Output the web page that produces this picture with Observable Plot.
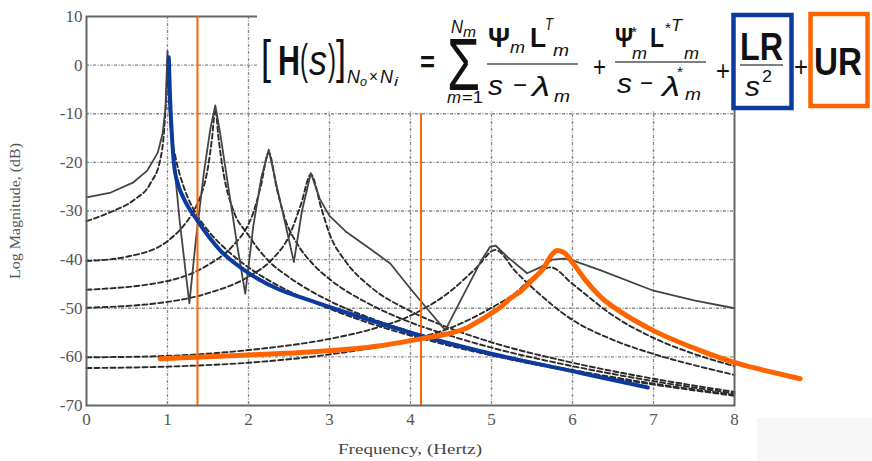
<!DOCTYPE html>
<html><head><meta charset="utf-8">
<script src="https://cdn.jsdelivr.net/npm/d3@7"></script>
<script src="https://cdn.jsdelivr.net/npm/@observablehq/plot@0.6"></script>
<style>html,body{margin:0;padding:0;background:#fff;} #chart svg{display:block}</style>
</head><body><div id="chart"></div>
<script>
// ---- data ----
const freqTicks = [0, 1, 2, 3, 4, 5, 6, 7, 8];
const magTicks = [10, 0, -10, -20, -30, -40, -50, -60, -70];
const bandEdges = [{f: 1.37, top: 10}, {f: 4.13, top: -10}];

const totalFRF = [[0,-27.2],[0.3,-26.2],[0.58,-24.1],[0.75,-21.7],[0.88,-18],[0.94,-14],[0.975,-9],[1.0,3],[1.03,-9],[1.08,-20],[1.15,-32],[1.22,-42],[1.27,-49],[1.35,-36],[1.45,-22],[1.53,-13],[1.59,-8.3],[1.65,-14],[1.75,-25],[1.86,-37],[1.96,-47],[2.06,-33],[2.16,-23],[2.25,-17.4],[2.35,-25],[2.46,-33],[2.56,-40.5],[2.66,-30],[2.77,-22.2],[2.88,-27.5],[3.0,-31],[3.2,-34.2],[3.47,-37.4],[3.75,-40.8],[4.0,-46],[4.2,-50],[4.43,-54.5],[4.6,-49],[4.86,-40.6],[4.98,-37.4],[5.05,-37.1],[5.2,-39.5],[5.44,-42.8],[5.6,-41.6],[5.75,-40],[5.9,-39.8],[6.01,-40.2],[6.35,-42.2],[7.0,-46.4],[7.5,-48.4],[8.0,-50]];

const mode1 = [[0,-32.1],[0.3,-30.2],[0.58,-27.8],[0.79,-24.3],[0.91,-19.5],[0.96,-13],[0.99,-4],[1.0,1],[1.01,-4],[1.04,-13],[1.1,-19],[1.2,-25],[1.37,-31],[1.5,-34],[1.75,-38.3],[2.0,-41.6],[2.5,-46.5],[3.0,-50.1],[3.5,-53.1],[4.0,-55.6],[5.0,-59.7],[6.0,-63],[7.0,-65.7],[8.0,-68]];
const mode2 = [[0,-40.3],[0.5,-39.4],[1.0,-36.2],[1.2,-33],[1.3,-30.7],[1.4,-27.3],[1.45,-24.8],[1.5,-21],[1.55,-15],[1.59,-9],[1.63,-15],[1.7,-23],[1.8,-29.3],[2.0,-35],[2.25,-40.3],[2.5,-43.6],[3.0,-48.5],[3.5,-52],[4.0,-54.8],[4.5,-57.2],[5.0,-59.3],[6.0,-62.7],[7.0,-65.5],[8.0,-67.8]];
const mode3 = [[0,-46.2],[1.0,-44.4],[1.5,-41.1],[1.8,-37.3],[2.0,-32.7],[2.05,-30.8],[2.15,-25],[2.25,-18],[2.35,-25.4],[2.45,-31.6],[2.6,-36.7],[2.8,-41],[3.0,-44],[3.5,-49.2],[4.0,-52.9],[4.5,-55.7],[5.0,-58.1],[6.0,-61.9],[7.0,-65],[8.0,-67.5]];
const mode4 = [[0,-49.9],[1.0,-48.7],[1.5,-46.9],[2.0,-43.5],[2.3,-39.8],[2.5,-35.2],[2.65,-28.5],[2.77,-22.5],[2.9,-29.5],[3.0,-34.7],[3.2,-40.4],[3.5,-45.5],[4.0,-50.6],[4.5,-54.2],[5.0,-57],[6.0,-61.2],[7.0,-64.5],[8.0,-67.2]];
const mode5 = [[0,-60.1],[1.0,-59.8],[2.0,-58.6],[3.0,-56.3],[3.5,-54.4],[4.0,-51.5],[4.5,-46.4],[4.8,-41.9],[5.05,-38],[5.3,-42.5],[5.5,-45.7],[6.0,-52.4],[6.5,-56.5],[7.0,-59.4],[7.5,-61.7],[8.0,-63.7]];
const mode6 = [[0,-62.3],[1.0,-62],[2.0,-61.2],[3.0,-59.5],[4.0,-56.5],[4.5,-54],[5.0,-49.9],[5.3,-46.8],[5.5,-43.8],[5.73,-41.6],[6.0,-45],[6.5,-51.5],[7.0,-56.1],[7.5,-59.4],[8.0,-61.9]];

const lowerResidual = [[1.016,1.6],[1.03,-6],[1.04,-10],[1.06,-16],[1.08,-20.3],[1.13,-24.5],[1.2,-27.4],[1.37,-32],[1.65,-38.1],[1.9,-41.6],[2.4,-46.3],[2.64,-47.7],[3.38,-51.8],[4.12,-55.6],[5.01,-59.4],[6.1,-63.3],[6.93,-66.3]];
const upperResidual = [[0.91,-60.4],[2.0,-59.6],[2.64,-59.1],[3.63,-57.7],[4.12,-56.3],[4.45,-55.3],[4.7,-54],[4.86,-52.5],[5.0,-51],[5.11,-49.8],[5.23,-48],[5.36,-46.5],[5.52,-43.9],[5.65,-41.6],[5.73,-39.3],[5.81,-38.1],[5.9,-38.6],[6.01,-40.8],[6.15,-44],[6.35,-47.7],[6.6,-50.8],[7.0,-54.6],[7.58,-58.7],[8.05,-61.4],[8.5,-63.3],[8.81,-64.5]];

const modes = [mode1, mode2, mode3, mode4, mode5, mode6];

// ---- styles ----
const BLUE = "#0c3a9e", ORANGE = "#ff6400";
const SERIF = "'Liberation Serif', 'DejaVu Serif', serif";
const gridStyle = {stroke: "#888", strokeWidth: 1.3, strokeDasharray: "3,1.5,1,1.5"};
const dashStyle = {stroke: "#2a2a2a", strokeWidth: 1.9, strokeDasharray: "5,3", curve: "monotone-x"};
const tickText = {fontFamily: SERIF, fontSize: 17, fill: "#555", className: "tick-lbl"};

const chart = Plot.plot({
  width: 872, height: 461,
  marginLeft: 86, marginRight: 138, marginTop: 16, marginBottom: 56,
  x: {domain: [0, 8], axis: null},
  y: {domain: [-70, 10], axis: null},
  style: {background: "white", overflow: "visible"},
  marks: [
    Plot.ruleX(freqTicks.slice(1, -1), gridStyle),
    Plot.ruleY(magTicks.slice(1, -1), gridStyle),
    ...modes.map(m => Plot.line(m, dashStyle)),
    Plot.line(totalFRF, {stroke: "#444", strokeWidth: 1.8}),
    Plot.frame({stroke: "#666", strokeWidth: 2}),
    Plot.text(freqTicks, {x: d => d, y: -70, text: d => String(d), dy: 14, textAnchor: "middle", ...tickText}),
    Plot.text(magTicks, {x: 0, y: d => d, text: d => String(d), dx: -4, textAnchor: "end", ...tickText}),
    Plot.ruleX(bandEdges, {x: "f", y1: "top", y2: -70, stroke: ORANGE, strokeWidth: 2}),
    Plot.line(lowerResidual, {stroke: BLUE, strokeWidth: 4, curve: "monotone-x"}),
    Plot.line(upperResidual, {stroke: ORANGE, strokeWidth: 5, curve: "monotone-x", strokeLinejoin: "round"})
  ]
});
document.getElementById("chart").append(chart);

// ---- annotations: axis titles and equation ----
const svg = d3.select(chart);
svg.selectAll(".tick-lbl").attr("font-family", SERIF).attr("font-size", 17);
svg.append("text").attr("transform", "translate(20,211) rotate(-90)")
  .attr("text-anchor", "middle").attr("font-family", SERIF)
  .attr("font-size", 14).attr("fill", "#555")
  .attr("textLength", 136).attr("lengthAdjust", "spacingAndGlyphs")
  .text("Log Magnitude, (dB)");
svg.append("text").attr("x", 410).attr("y", 454)
  .attr("text-anchor", "middle").attr("font-family", SERIF)
  .attr("font-size", 15).attr("fill", "#444")
  .attr("textLength", 144).attr("lengthAdjust", "spacingAndGlyphs")
  .text("Frequency, (Hertz)");
svg.append("rect").attr("x", 757).attr("y", 418).attr("width", 115).attr("height", 43).attr("fill", "#f6f6f6");

const eq = svg.append("g").attr("font-family", "'Liberation Sans', Arial, sans-serif")
  .attr("fill", "#111").attr("text-anchor", "start");
eq.append("rect").attr("x", 257).attr("y", 0).attr("width", 615).attr("height", 110).attr("fill", "white");

function t(x, y, s, size, o = {}) {
  const el = eq.append("text").attr("x", x).attr("y", y).attr("font-size", size)
    .attr("text-anchor", "start")
    .attr("font-weight", o.bold ? "bold" : "normal")
    .attr("font-style", o.it ? "italic" : "normal")
    .text(s);
  if (o.w) el.attr("textLength", o.w).attr("lengthAdjust", "spacingAndGlyphs");
  return el;
}
function bar(x1, x2, y) {
  eq.append("line").attr("x1", x1).attr("x2", x2).attr("y1", y).attr("y2", y).attr("stroke", "#555").attr("stroke-width", 1.5);
}

// [H(s)]_{No x Ni}
t(261, 73, "[", 46, {w: 10});
t(278, 75, "H", 42, {bold: true, w: 22});
t(300, 74, "(", 42, {w: 8});
t(309, 75, "s", 42, {it: true, w: 18});
t(328, 74, ")", 42, {w: 8});
t(336, 73, "]", 46, {w: 10});
t(347, 83, "N", 19, {it: true, w: 13});
t(360, 86, "o", 13, {it: true, w: 7});
t(369, 82, "×", 16, {w: 9});
t(380, 83, "N", 19, {it: true, w: 13});
t(394, 86, "i", 13, {it: true, w: 4});
// = sum
t(420, 72, "=", 30, {bold: true, w: 15});
t(447, 90, "Σ", 74, {w: 33});
t(451, 33, "N", 18, {it: true, w: 12});
t(463, 37, "m", 14, {it: true, w: 13});
t(447, 103, "m", 17, {it: true, w: 14});
t(462, 103, "=1", 17, {w: 21});
// fraction 1
t(488, 47, "Ψ", 28, {bold: true, w: 22});
t(510, 53, "m", 17, {it: true, w: 15});
t(530, 47, "L", 28, {bold: true, w: 16});
t(545, 30, "T", 16, {it: true, w: 8});
t(553, 56, "m", 17, {it: true, w: 16});
bar(487, 578, 64);
t(488, 95, "s", 28, {it: true, w: 15});
t(513, 93, "−", 24, {w: 14});
t(532, 96, "λ", 28, {it: true, w: 18});
t(554, 102, "m", 17, {it: true, w: 16});
t(593, 76, "+", 28, {w: 13});
// fraction 2
t(615, 47, "Ψ", 28, {bold: true, w: 18});
t(631, 37, "*", 14, {w: 6});
t(632, 59, "m", 17, {it: true, w: 15});
t(650, 47, "L", 28, {bold: true, w: 14});
t(665, 33, "*", 14, {w: 6});
t(671, 31, "T", 16, {it: true, w: 11});
t(684, 59, "m", 17, {it: true, w: 15});
bar(615, 706, 62);
t(617, 93, "s", 28, {it: true, w: 15});
t(640, 91, "−", 24, {w: 13});
t(662, 96, "λ", 28, {it: true, w: 18});
t(677, 77, "*", 14, {w: 6});
t(685, 100, "m", 17, {it: true, w: 16});
t(716, 80, "+", 28, {w: 14});
// LR / s^2 box
eq.append("rect").attr("x", 733.5).attr("y", 15).attr("width", 58).attr("height", 93).attr("fill", "white").attr("stroke", BLUE).attr("stroke-width", 4.5);
t(740, 60, "LR", 38, {bold: true, w: 43});
bar(740, 783, 65);
t(745, 96, "s", 28, {it: true, w: 15});
t(762, 82, "2", 17, {w: 10});
t(794, 76, "+", 28, {w: 14});
// UR box
eq.append("rect").attr("x", 810.5).attr("y", 14).attr("width", 57).attr("height", 92).attr("fill", "white").attr("stroke", ORANGE).attr("stroke-width", 4.5);
t(814, 75, "UR", 39, {bold: true, w: 48});
</script></body></html>
